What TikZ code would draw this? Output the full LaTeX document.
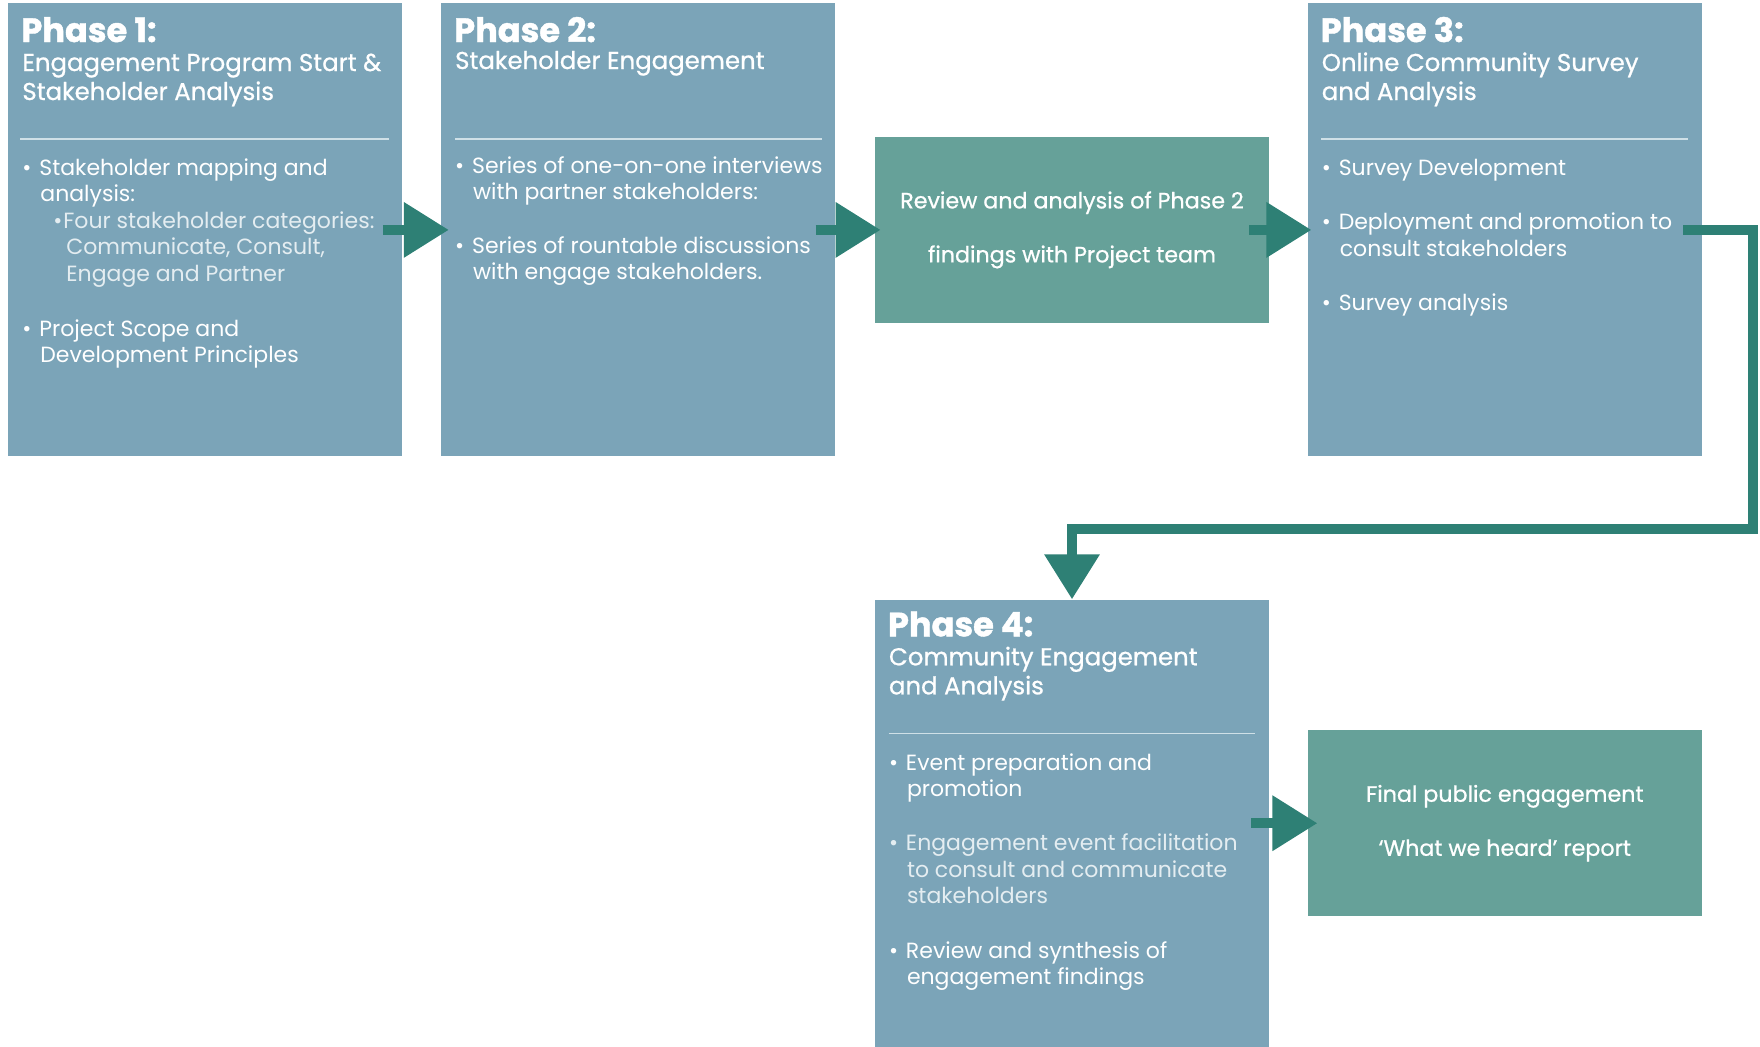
\documentclass[tikz,border=0pt]{standalone}
\usepackage{fontspec}
\setmainfont{Poppins}
\usetikzlibrary{arrows.meta,positioning,calc}

\definecolor{phaseblue}{HTML}{7BA4B8}
\definecolor{reviewgreen}{HTML}{66A199}
\definecolor{arrowteal}{HTML}{2E8075}
\definecolor{rulelight}{HTML}{CFE0E7}
\definecolor{litetext}{HTML}{E4EDF1}

\newcommand{\toplines}[1]{\begin{tabular}[t]{@{}l@{}}#1\end{tabular}}
\newcommand{\bul}{\makebox[8.5pt][l]{\textbullet}}
\newcommand{\ind}{\hspace*{9pt}}
\newcommand{\subbul}{\hspace*{15.5pt}\makebox[5pt][l]{\textbullet}}
\newcommand{\subind}{\hspace*{22pt}}

\begin{document}
\begin{tikzpicture}[
  phase/.style={fill=phaseblue,minimum width=197pt,minimum height=226.5pt,inner sep=0pt},
  result/.style={fill=reviewgreen,minimum width=197pt,minimum height=93pt,inner sep=0pt,text=white,align=center,
    font=\fontsize{11.1pt}{27pt}\selectfont\addfontfeatures{FakeBold=0.8}},
  ptitle/.style={anchor=base west,inner sep=0pt,text=white,font=\fontsize{16.8pt}{18pt}\selectfont\bfseries\addfontfeatures{FakeBold=1.2}},
  psub/.style={anchor=base west,inner sep=0pt,text=white,font=\fontsize{12.2pt}{14.5pt}\selectfont\addfontfeatures{FakeBold=0.8}},
  plist/.style={anchor=base west,inner sep=0pt,text=white,font=\fontsize{11pt}{13.3pt}\selectfont},
  sep/.style={draw=rulelight,line width=0.6pt},
  arr/.style={draw=arrowteal,line width=5pt,line join=miter,-{Triangle[length=22.5pt,width=26.5pt]}}
]
\useasboundingbox (0,0) rectangle (880pt,-523pt);

\node[phase,anchor=north west] (phaseone) at (4pt,-1.5pt) {};
\node[phase,right=19pt of phaseone] (phasetwo) {};
\node[result,right=19.5pt of phasetwo] (review) {Review and analysis of Phase 2\\findings with Project team};
\node[phase,right=19pt of review] (phasethree) {};
\node[phase,minimum height=223.5pt,below=138pt of review] (phasefour) {};
\node[result,right=19pt of phasefour] (final) {Final public engagement\\‘What we heard’ report};

\node[ptitle] (p1title) at ([shift={(6.5pt,-19.5pt)}]phaseone.north west) {Phase 1:};
\node[psub] (p1sub) at ([shift={(7pt,-34pt)}]phaseone.north west) {\toplines{Engagement Program Start \&\\Stakeholder Analysis}};
\draw[sep] ([shift={(6pt,-68pt)}]phaseone.north west) -- ([shift={(-7pt,-68pt)}]phaseone.north east);
\node[plist] (p1list) at ([shift={(7pt,-86pt)}]phaseone.north west)
{\toplines{\bul Stakeholder mapping and\\\ind analysis:\\
 {\color{litetext}\subbul Four stakeholder categories:}\\{\color{litetext}\subind Communicate, Consult,}\\{\color{litetext}\subind Engage and Partner}\\[14pt]
 \bul Project Scope and\\\ind Development Principles}};

\node[ptitle] (p2title) at ([shift={(6.5pt,-19.5pt)}]phasetwo.north west) {Phase 2:};
\node[psub] (p2sub) at ([shift={(7pt,-33pt)}]phasetwo.north west) {Stakeholder Engagement};
\draw[sep] ([shift={(7pt,-68pt)}]phasetwo.north west) -- ([shift={(-7pt,-68pt)}]phasetwo.north east);
\node[plist] (p2list) at ([shift={(7pt,-85pt)}]phasetwo.north west)
{\toplines{\bul Series of one-on-one interviews\\\ind with partner stakeholders:\\[13.5pt]
 \bul Series of rountable discussions\\\ind with engage stakeholders.}};

\node[ptitle] (p3title) at ([shift={(6.5pt,-19.5pt)}]phasethree.north west) {Phase 3:};
\node[psub] (p3sub) at ([shift={(7pt,-34pt)}]phasethree.north west) {\toplines{Online Community Survey\\and Analysis}};
\draw[sep] ([shift={(7pt,-68pt)}]phasethree.north west) -- ([shift={(-7pt,-68pt)}]phasethree.north east);
\node[plist] (p3list) at ([shift={(7pt,-86pt)}]phasethree.north west)
{\toplines{\bul Survey Development\\[14pt]
 \bul Deployment and promotion to\\\ind consult stakeholders\\[14pt]
 \bul Survey analysis}};

\node[ptitle] (p4title) at ([shift={(6.5pt,-18.5pt)}]phasefour.north west) {Phase 4:};
\node[psub] (p4sub) at ([shift={(7pt,-33pt)}]phasefour.north west) {\toplines{Community Engagement\\and Analysis}};
\draw[sep] ([shift={(7pt,-67pt)}]phasefour.north west) -- ([shift={(-7pt,-67pt)}]phasefour.north east);
\node[plist] (p4list) at ([shift={(7pt,-85.5pt)}]phasefour.north west)
{\toplines{\bul Event preparation and\\\ind promotion\\[13.5pt]
 {\color{litetext}\bul Engagement event facilitation}\\{\color{litetext}\ind to consult and communicate}\\{\color{litetext}\ind stakeholders}\\[14pt]
 \bul Review and synthesis of\\\ind engagement findings}};

\draw[arr] ([xshift=-10pt]phaseone.east) -- ([xshift=4pt]phasetwo.west);
\draw[arr] ([xshift=-10pt]phasetwo.east) -- ([xshift=3pt]review.west);
\draw[arr] ([xshift=-10pt]review.east) -- ([xshift=2pt]phasethree.west);
\draw[arr] ([xshift=-9.5pt]phasethree.east) -- ++(35pt,0) |- ([yshift=35pt]phasefour.north) -- (phasefour.north);
\draw[arr] ([xshift=-9pt]phasefour.east) -- ([xshift=5pt]final.west);
\end{tikzpicture}
\end{document}
